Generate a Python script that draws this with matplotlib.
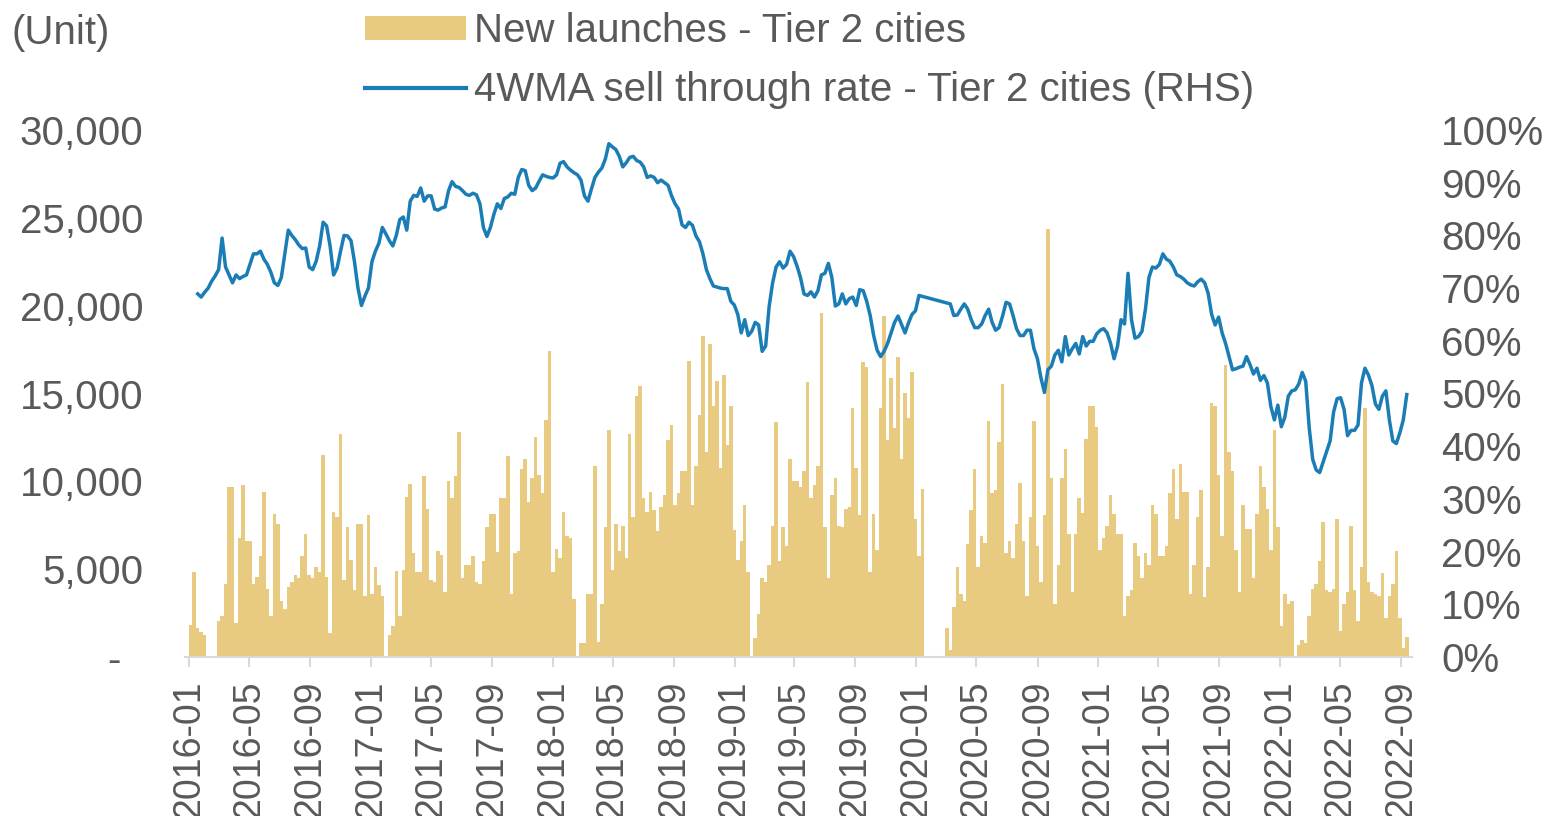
import numpy as np
import pandas as pd
import matplotlib
matplotlib.use("Agg")
import matplotlib.pyplot as plt
import matplotlib.dates as mdates
from matplotlib.ticker import FixedLocator, FuncFormatter

nan = np.nan

# ---------------- data (weekly) ----------------
week_start = pd.date_range("2016-01-01", periods=350, freq="7D")

launches_2016 = [1800, 4850, 1650, 1450, 1260, 0, 0, 0, 2040, 2330, 4170, 9650, 9700, 1940, 6800,
                 9770, 6600, 6600, 4170, 4560, 5730, 9380, 3880, 2330, 8150, 7570, 3200, 2720, 4000,
                 4270, 4660, 4470, 5730, 6990, 4660, 4470, 5150, 4850, 11500, 4560, 1360, 8250, 7960,
                 12700, 4400]
launches_2017 = [7380, 5530, 3790, 7570, 7570, 3500, 8060, 3590, 5150, 4080, 3500, 0, 1260, 1750, 4890,
                 2330, 4950, 9130, 9840, 5920, 4850, 4850, 10290, 8450, 4370, 4270, 6020, 5830, 3690,
                 10000, 9030, 10290, 12820, 4470, 5240, 5240, 5730, 4270, 4170, 5440, 7380, 8150, 8150,
                 6000]
launches_2018a = [9030, 9030, 11460, 3590, 5920, 6020, 10680, 11260, 8840, 10190, 12520, 10380, 9320,
                  13500, 17410, 4850, 6160, 5630, 8250, 6890, 6800, 3300, 0, 780, 780, 3590, 3590,
                  10870, 870, 3010, 7380, 12910, 4950, 7570, 6020, 7470, 5630, 12720, 7960, 14850,
                  15440, 9030, 8250, 9420]
launches_2018b = [8350, 7180, 8540, 9220, 12330, 13200, 8640, 9320, 10580, 10580, 16830, 8640, 10870,
                  13790, 18250, 11650, 17800, 14270, 15730, 10780, 16050, 12040, 14270, 7220, 5530,
                  6600, 8640, 4850, 0, 1070, 2430, 4470, 4270, 5240, 7470, 13400, 5440, 7380, 6310,
                  11260, 10000, 10000, 9700, 10580, 15630]
launches_2019 = [9030, 9810, 10870, 19610, 7380, 4470, 9220, 10190, 7470, 7380, 8450, 8540, 14170,
                 10780, 8060, 16800, 16500, 4850, 8150, 6110, 14170, 19420, 12330, 15860, 13010, 17060,
                 11260, 15050, 13590, 16250, 7860, 5730, 9560, 0, 0, 0, 0, 0, 0, 1650, 390, 2820,
                 5150, 3590, 3200]
launches_2020 = [6410, 8350, 10680, 5140, 6890, 6500, 13450, 9320, 9510, 12230, 15530, 5920, 6600,
                 5630, 7570, 9900, 6600, 3500, 7960, 13450, 6310, 4270, 8060, 24370, 10190, 3010, 5240,
                 10190, 11850, 6990, 3690, 6990, 9030, 8200, 12430, 14270, 14270, 13110, 6110, 6800,
                 7470, 9220, 8150, 6990]
launches_2021 = [6990, 2330, 3500, 3790, 6500, 5730, 4470, 5920, 5240, 8640, 8150, 5730, 5730, 6310,
                 9320, 10680, 7860, 10970, 9420, 9420, 3590, 5240, 7960, 9510, 3400, 5150, 14460,
                 14270, 10380, 6890, 16640, 11650, 10580, 6110, 3690, 8640, 7270, 7270, 4470, 8150,
                 10870, 9700, 8450, 6110, 12910]
launches_2022 = [7380, 1750, 3590, 3010, 3200, 0, 680, 970, 780, 2330, 3880, 4170, 5440, 7670, 3790,
                 3690, 3880, 7860, 1460, 3010, 3690, 7470, 3790, 2040, 5150, 14170, 4270, 3690, 3590,
                 3500, 4760, 2230, 3500, 4170, 6020, 2230, 485, 1165]

rate_2016 = [nan, nan, 68.9, 68.3, 69.2, 70.0, 71.3, 72.3, 73.5, 79.5, 74.0, 72.5, 71.0, 72.5, 71.8,
             72.2, 72.5, 74.5, 76.5, 76.5, 77.0, 75.5, 74.5, 73.0, 71.0, 70.5, 72.0, 76.5, 81.0, 80.0,
             79.2, 78.2, 77.5, 77.6, 74.0, 73.5, 75.1, 78.0, 82.5, 81.8, 78.0, 72.5, 73.8, 77.0, 80.0]
rate_2017 = [79.9, 79.0, 75.0, 70.0, 66.7, 68.5, 70.0, 75.0, 77.0, 78.5, 81.5, 80.3, 79.0, 78.0, 80.0,
             83.0, 83.5, 81.0, 86.5, 87.6, 87.4, 89.0, 86.5, 87.5, 87.5, 85.0, 84.8, 85.2, 85.4, 88.5,
             90.2, 89.3, 89.1, 88.5, 87.8, 87.6, 88.0, 87.7, 86.0, 81.5, 79.8, 81.5, 84.0, 86.0]
rate_2018a = [85.1, 87.0, 87.3, 88.0, 87.8, 91.0, 92.5, 92.3, 89.5, 88.5, 89.0, 90.3, 91.5, 91.2, 91.0,
              90.9, 91.5, 93.7, 94.0, 93.0, 92.4, 91.9, 91.5, 90.5, 87.5, 86.5, 88.8, 91.0, 92.0, 92.8,
              94.5, 97.4, 96.8, 96.3, 95.0, 93.0, 93.8, 94.8, 95.0, 94.2, 93.9, 93.0, 91.0, 91.3]
rate_2018b = [91.0, 90.0, 90.5, 90.0, 89.5, 87.5, 86.0, 85.0, 82.0, 81.5, 82.5, 81.9, 79.9, 78.8, 76.5,
              73.5, 71.8, 70.4, 70.2, 70.0, 69.9, 69.9, 67.5, 66.8, 65.0, 61.5, 64.0, 61.0, 61.8, 63.5,
              63.0, 58.0, 59.0, 66.5, 71.0, 74.0, 75.0, 73.8, 74.5, 77.0, 76.0, 74.2, 72.0, 68.9, 68.6]
rate_2019 = [69.3, 68.3, 69.5, 72.5, 72.8, 74.7, 72.0, 66.6, 67.0, 68.9, 67.0, 68.0, 68.3, 66.7, 69.7,
             69.5, 67.5, 64.8, 61.0, 58.2, 57.0, 58.0, 59.5, 61.5, 63.5, 64.7, 63.1, 61.5, 63.4, 65.0,
             65.7, 68.6, nan, nan, nan, nan, nan, nan, nan, nan, 67.0, 64.8, 64.9, 66.0, 67.0]
rate_2020 = [66.0, 64.0, 62.5, 62.5, 63.2, 64.8, 66.0, 63.5, 62.0, 62.5, 64.7, 67.3, 67.0, 64.8, 62.3,
             61.0, 61.0, 62.0, 62.0, 58.5, 56.6, 53.0, 50.2, 54.5, 55.2, 57.3, 58.2, 56.0, 60.8, 57.3,
             58.5, 59.5, 57.5, 60.8, 59.0, 59.9, 59.9, 61.3, 62.0, 62.3, 61.5, 59.5, 56.6, 59.0]
rate_2021 = [64.0, 63.2, 72.8, 64.0, 60.5, 60.8, 61.8, 66.0, 72.0, 74.0, 73.8, 74.5, 76.5, 75.5, 75.1,
             74.0, 72.5, 72.2, 71.7, 71.0, 70.6, 70.4, 71.2, 71.7, 71.0, 69.0, 65.0, 63.0, 64.5, 61.5,
             59.5, 57.0, 54.5, 54.7, 55.0, 55.2, 57.0, 55.5, 53.7, 54.8, 52.5, 53.4, 52.0, 47.5, 45.0]
rate_2022 = [47.8, 43.7, 45.5, 49.5, 50.5, 50.7, 51.8, 54.0, 52.3, 43.5, 37.5, 35.5, 35.0, 37.0, 39.0,
             41.0, 46.5, 49.0, 49.2, 47.0, 42.0, 43.0, 43.0, 44.0, 52.0, 54.8, 53.5, 51.5, 48.0, 47.0,
             49.5, 50.5, 45.0, 41.0, 40.5, 42.5, 45.0, 49.8]

left_ticks = [0, 5000, 10000, 15000, 20000, 25000, 30000]
right_ticks = [0, 10, 20, 30, 40, 50, 60, 70, 80, 90, 100]
bar_label = "New launches - Tier 2 cities"
line_label = "4WMA sell through rate - Tier 2 cities (RHS)"
unit_label = "(Unit)"

launches = np.array(launches_2016 + launches_2017 + launches_2018a + launches_2018b +
                    launches_2019 + launches_2020 + launches_2021 + launches_2022, dtype=float)
rate = np.array(rate_2016 + rate_2017 + rate_2018a + rate_2018b + rate_2019 +
                rate_2020 + rate_2021 + rate_2022, dtype=float)
assert len(launches) == len(week_start) == len(rate)

# ---------------- style ----------------
plt.rcParams['font.family'] = ['Liberation Sans', 'DejaVu Sans']
GRAY = '#595959'
BAR_C = '#E8CA80'
LINE_C = '#1B7DB5'
W, H = 1548, 816

fig = plt.figure(figsize=(W / 100, H / 100), dpi=100)
ax = fig.add_axes([185 / W, (H - 657) / H, (1412 - 185) / W, (657 - 130) / H])
ax2 = ax.twinx()

bars = ax.bar(week_start, launches, width=7, align='edge', color=BAR_C, linewidth=0,
              label=bar_label)
valid = ~np.isnan(rate)
centers = week_start + pd.Timedelta(days=3.5)
line, = ax2.plot(centers[valid], rate[valid] / 100.0, color=LINE_C, lw=2.5,
                 solid_joinstyle='round', label=line_label)

ax.set_xlim(pd.Timestamp("2015-12-24"), pd.Timestamp("2022-09-23"))
ax.set_ylim(0, 30000)
ax2.set_ylim(0, 1.0)

ax.yaxis.set_major_locator(FixedLocator(left_ticks))
ax.yaxis.set_major_formatter(FuncFormatter(lambda v, p: "-  " if v == 0 else f"{v:,.0f}"))
ax2.yaxis.set_major_locator(FixedLocator([t / 100 for t in right_ticks]))
ax2.yaxis.set_major_formatter(FuncFormatter(lambda v, p: f"{v * 100:.0f}%"))

ax.xaxis.set_major_locator(mdates.MonthLocator(bymonth=[1, 5, 9]))
ax.xaxis.set_major_formatter(mdates.DateFormatter('%Y-%m'))

for a in (ax, ax2):
    for s in a.spines.values():
        s.set_visible(False)
ax.spines['bottom'].set_visible(True)
ax.spines['bottom'].set_color('#D9D9D9')
ax.spines['bottom'].set_linewidth(1.5)

ax.tick_params(axis='y', length=0, pad=30, labelsize=29, labelcolor=GRAY)
ax2.tick_params(axis='y', length=0, pad=21, labelsize=29, labelcolor=GRAY)
ax.tick_params(axis='x', length=7, width=1.5, color='#D9D9D9', pad=10,
               labelsize=27, labelcolor=GRAY, labelrotation=90)

fig.text(12 / W, 1 - 33 / H, unit_label, fontsize=29, color=GRAY, va='center', ha='left')

leg = fig.legend(handles=[bars, line], labels=[bar_label, line_label],
                 loc='upper left', bbox_to_anchor=(365 / W, 1 - 12 / H),
                 frameon=False, fontsize=29, labelcolor=GRAY, handlelength=2.5,
                 handleheight=0.55, handletextpad=0.2, labelspacing=0.52,
                 borderpad=0, borderaxespad=0)
leg.get_lines()[0].set_linewidth(3.0) if leg.get_lines() else None

fig.savefig("out.png", dpi=100)
